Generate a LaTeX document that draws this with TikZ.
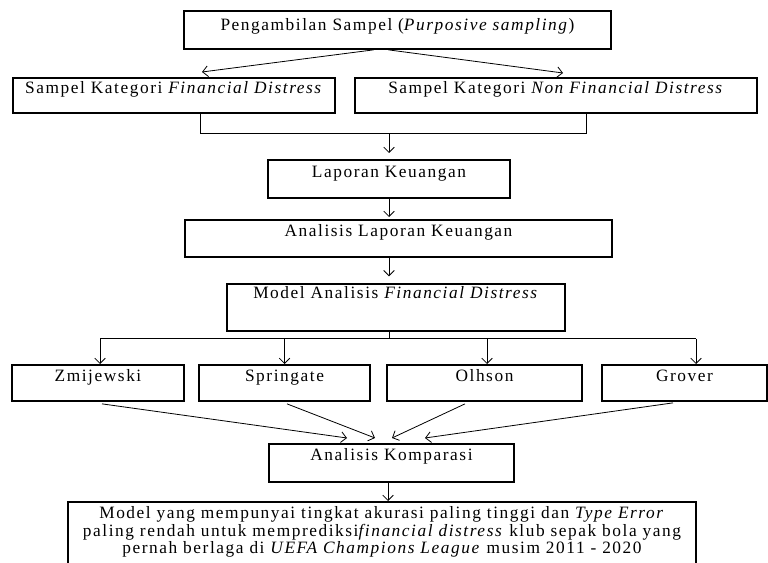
\documentclass[tikz,border=0pt]{standalone}
\usepackage{fontspec}
\setmainfont{Liberation Serif}[LetterSpace=9]
\usetikzlibrary{arrows.meta,calc}

\tikzset{
	kotak/.style={draw, line width=1.4pt, inner sep=0pt, anchor=north, align=center},
	panah/.style={-{Straight Barb[length=4pt,width=8pt]}, line width=0.6pt},
	garis/.style={line width=0.6pt},
}

\begin{document}
\begin{tikzpicture}[x=0.75pt, y=-0.75pt, font=\fontsize{13}{13.2}\selectfont]
	\useasboundingbox (0,0) rectangle (768,563);

	% kotak
	\node[kotak, minimum width=320.25pt, text height=14.5pt, text depth=14pt] (ambil) at (397.5,10) {Pengambilan Sampel (\textit{Purposive sampling})};
	\node[kotak, minimum width=241.5pt, text height=11.75pt, text depth=14.5pt] (fd) at (174,77) {Sampel Kategori \textit{Financial Distress}};
	\node[kotak, minimum width=301.5pt, text height=11.75pt, text depth=14.5pt] (nfd) at (556,77) {Sampel Kategori \textit{Non Financial Distress}};
	\node[kotak, minimum width=181.5pt, text height=13pt, text depth=15.5pt] (lap) at (389,159) {Laporan Keuangan};
	\node[kotak, minimum width=320.25pt, text height=12.5pt, text depth=15.25pt] (alk) at (398.5,219) {Analisis Laporan Keuangan};
	\node[kotak, minimum width=253.5pt, text height=11pt, text depth=24.25pt] (model) at (396,283) {Model Analisis \textit{Financial Distress}};
	\node[kotak, minimum width=129pt, text height=12.5pt, text depth=14.5pt] (zm) at (98,364) {Zmijewski};
	\node[kotak, minimum width=128.25pt, text height=12.5pt, text depth=14.5pt] (sp) at (284.5,364) {Springate};
	\node[kotak, minimum width=146.25pt, text height=12.5pt, text depth=14.5pt] (ol) at (484.5,364) {Olhson};
	\node[kotak, minimum width=123.75pt, text height=12.5pt, text depth=14.5pt] (gr) at (684.5,364) {Grover};
	\node[kotak, minimum width=183.75pt, text height=12.5pt, text depth=16pt] (ak) at (391.5,443) {Analisis Komparasi};
	\node[kotak, minimum width=471pt, inner ysep=3.5pt, text depth=18pt] (hasil) at (382,501) {Model yang mempunyai tingkat akurasi paling tinggi dan \textit{Type Error}\\
		paling rendah untuk memprediksi\textit{financial distress} klub sepak bola yang\\
		pernah berlaga di \textit{UEFA Champions League} musim 2011 - 2020};

	% panah
	\draw[panah] ($(ambil.south)+(-24,0)$) -- ($(fd.north)+(28,-5)$);
	\draw[panah] ($(ambil.south)+(-9,0)$) -- ($(nfd.north)+(7,-4)$);
	\draw[garis] ($(fd.south)+(26,0)$) |- coordinate[pos=0.5] (sudut) ($(nfd.south)+(30,20)$) -- ($(nfd.south)+(30,0)$);
	\coordinate (gabung) at (lap.north |- sudut);
	\draw[panah, shorten >=4.5pt] (gabung) -- (lap.north);
	\draw[panah, shorten >=1.5pt] (lap.south) -- (lap.south |- alk.north);
	\draw[panah, shorten >=5pt] (lap.south |- alk.south) -- (lap.south |- model.north);
	\coordinate (cabang) at ($(lap.south |- model.south)+(0,7)$);
	\draw[garis] (lap.south |- model.south) -- (cabang);
	\draw[garis] ($(cabang -| zm.north)+(2,0)$) -- ($(cabang -| gr.north)+(11.5,0)$);
	\draw[panah] ($(cabang -| zm.north)+(2,0)$) -- ($(zm.north)+(2,0)$);
	\draw[panah] (cabang -| sp.north) -- (sp.north);
	\draw[panah] ($(cabang -| ol.north)+(2.5,0)$) -- ($(ol.north)+(2.5,0)$);
	\draw[panah] ($(cabang -| gr.north)+(11.5,0)$) -- ($(gr.north)+(11.5,0)$);
	\draw[panah] ($(zm.south)+(4,2)$) -- ($(ak.north)+(-44.5,-5)$);
	\draw[panah] ($(sp.south)+(2.5,2)$) -- ($(ak.north)+(-16.5,-5)$);
	\draw[panah] ($(ol.south)+(-19.5,2)$) -- ($(ak.north)+(0.5,-5)$);
	\draw[panah] ($(gr.south)+(-11.5,1)$) -- ($(ak.north)+(33.5,-5)$);
	\draw[panah] ($(ak.south)+(-3.5,0)$) -- ($(ak.south |- hasil.north)+(-3.5,0)$);
\end{tikzpicture}
\end{document}
